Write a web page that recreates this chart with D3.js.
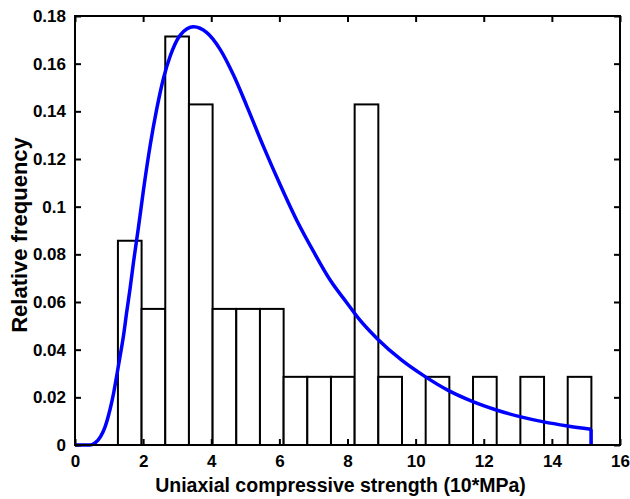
<!DOCTYPE html>
<html>
<head>
<meta charset="utf-8">
<script src="https://cdn.jsdelivr.net/npm/d3@7"></script>
<style>
  html, body { margin: 0; padding: 0; background: #fff; }
  svg text { font-family: "Liberation Sans", Arial, Helvetica, sans-serif; font-weight: bold; fill: #000; }
</style>
</head>
<body>
<svg id="chart" width="630" height="499"></svg>
<script>
// ---- data ----
const binEdges = [1.26, 1.955, 2.65, 3.345, 4.04, 4.735, 5.43, 6.125, 6.82, 7.515, 8.21,
                  8.905, 9.6, 10.295, 10.99, 11.685, 12.38, 13.075, 13.77, 14.465, 15.16];
const binFreq = [0.0857, 0.0571, 0.1714, 0.1429, 0.0571, 0.0571, 0.0571, 0.0286, 0.0286, 0.0286,
                 0.1429, 0.0286, 0, 0.0286, 0, 0.0286, 0, 0.0286, 0, 0.0286];
const curveX = [0, 0.45, 0.6, 0.75, 0.88, 1.03, 1.13, 1.23, 1.32, 1.42, 1.52, 1.62, 1.72, 1.86, 2.01,
                2.21, 2.40, 2.60, 2.79, 3.09, 3.48, 3.87, 4.26, 4.66, 5.05, 5.54, 6.03, 6.52, 7.01,
                7.5, 7.99, 8.33, 8.88, 9.6, 10.28, 10.97, 11.68, 12.37, 13.06, 13.76, 14.46, 15.15];
const curveY = [0, 0, 0.001, 0.0035, 0.0075, 0.015, 0.0215, 0.0295, 0.037, 0.0455, 0.056, 0.066, 0.077,
                0.091, 0.107, 0.126, 0.141, 0.154, 0.163, 0.172, 0.1755, 0.173, 0.166, 0.155, 0.142,
                0.125, 0.109, 0.094, 0.081, 0.069, 0.0595, 0.053, 0.0445, 0.0355, 0.0287, 0.0228, 0.0182,
                0.0147, 0.0119, 0.0097, 0.008, 0.0066];
const xTicks = [0, 2, 4, 6, 8, 10, 12, 14, 16];
const yTicks = [0, 0.02, 0.04, 0.06, 0.08, 0.1, 0.12, 0.14, 0.16, 0.18];
const xLabel = "Uniaxial compressive strength (10*MPa)";
const yLabel = "Relative frequency";

// ---- layout ----
const L = 75, R = 620, T = 16, B = 445;
const svg = d3.select("#chart");
const x = d3.scaleLinear().domain([0, 16]).range([L, R]);
const y = d3.scaleLinear().domain([0, 0.18]).range([B, T]);

// bars
const bins = binFreq.map((f, i) => ({x0: binEdges[i], x1: binEdges[i + 1], f}));
svg.append("g").selectAll("rect").data(bins.filter(d => d.f > 0)).join("rect")
  .attr("x", d => x(d.x0)).attr("width", d => x(d.x1) - x(d.x0))
  .attr("y", d => y(d.f)).attr("height", d => y(0) - y(d.f))
  .attr("fill", "#fff").attr("stroke", "#000").attr("stroke-width", 2);

// curve
const pts = curveX.map((v, i) => [v, curveY[i]]);
const line = d3.line().x(d => x(d[0])).y(d => y(d[1])).curve(d3.curveMonotoneX);
svg.append("path").attr("d", line(pts)).attr("fill", "none")
  .attr("stroke", "#0000ff").attr("stroke-width", 3.5).attr("stroke-linejoin", "round");
// vertical drop at end
const last = pts[pts.length - 1];
svg.append("path").attr("d", d3.line().x(d => x(d[0])).y(d => y(d[1]))([last, [last[0], 0]]))
  .attr("fill", "none").attr("stroke", "#0000ff").attr("stroke-width", 3.5);

// axes
const fmt = d => d3.format("")(+d.toFixed(2));
const gx = svg.append("g").attr("transform", `translate(0,${B})`)
  .call(d3.axisBottom(x).tickValues(xTicks).tickSizeInner(-6).tickSizeOuter(0).tickPadding(10).tickFormat(d3.format("d")));
const gy = svg.append("g").attr("transform", `translate(${L},0)`)
  .call(d3.axisLeft(y).tickValues(yTicks).tickSizeInner(-6).tickSizeOuter(0).tickPadding(9).tickFormat(fmt));
const gt = svg.append("g").attr("transform", `translate(0,${T})`)
  .call(d3.axisTop(x).tickValues(xTicks).tickSizeInner(-6).tickSizeOuter(0).tickFormat(""));
const gr = svg.append("g").attr("transform", `translate(${R},0)`)
  .call(d3.axisRight(y).tickValues(yTicks).tickSizeInner(-6).tickSizeOuter(0).tickFormat(""));
[gx, gy, gt, gr].forEach(g => {
  g.select(".domain").remove();
  g.selectAll(".tick line").attr("stroke", "#000").attr("stroke-width", 2);
  g.selectAll("text").style("font-size", "17px");
});
gx.selectAll("text").attr("dy", "0.71em");
svg.append("rect").attr("x", L).attr("y", T).attr("width", R - L).attr("height", B - T)
  .attr("fill", "none").attr("stroke", "#000").attr("stroke-width", 2);

// labels
svg.append("text").attr("x", (L + R) / 2 - 7).attr("y", 492).attr("text-anchor", "middle")
  .style("font-size", "19.5px").text(xLabel);
svg.append("text").attr("transform", `translate(27,${235}) rotate(-90)`).attr("text-anchor", "middle")
  .style("font-size", "22px").text(yLabel);
</script>
</body>
</html>
